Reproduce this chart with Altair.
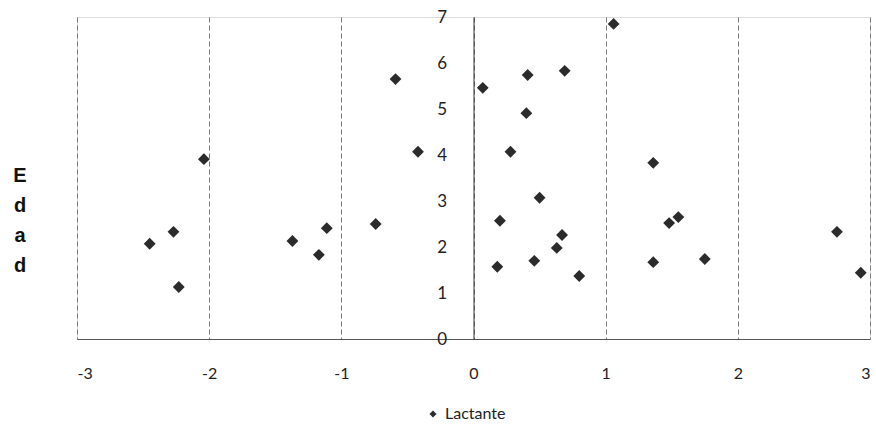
import altair as alt
import pandas as pd

# Scatter of "Lactante" values: x score vs. Edad
x_vals = [-2.45, -2.27, -2.23, -2.04, -1.37, -1.17, -1.11, -0.74, -0.59, -0.42,
          0.07, 0.18, 0.20, 0.28, 0.41, 0.40, 0.46, 0.50, 0.63, 0.67,
          0.69, 0.80, 1.06, 1.36, 1.36, 1.48, 1.55, 1.75, 2.75, 2.93]
y_vals = [2.07, 2.33, 1.13, 3.91, 2.13, 1.83, 2.41, 2.50, 5.65, 4.07,
          5.46, 1.57, 2.57, 4.07, 5.74, 4.91, 1.70, 3.07, 1.98, 2.26,
          5.83, 1.37, 6.85, 3.83, 1.67, 2.52, 2.65, 1.74, 2.33, 1.44]
series_name = "Lactante"
x_ticks = [-3, -2, -1, 0, 1, 2, 3]
y_ticks = [0, 1, 2, 3, 4, 5, 6, 7]
y_title = ["E", "d", "a", "d"]

df = pd.DataFrame({"x": x_vals, "y": y_vals, "serie": [series_name] * len(x_vals)})

W, H = 793, 322
FONT = "Lato"

points = alt.Chart(df).mark_point(
    shape="diamond", filled=True, size=140, opacity=1
).encode(
    x=alt.X("x:Q",
            scale=alt.Scale(domain=[-3, 3], nice=False, zero=False),
            axis=alt.Axis(values=x_ticks, title=None, grid=True,
                          gridDash=[5, 3], gridColor="#7a7a7a", gridWidth=1,
                          ticks=False, domainColor="#555555", domainWidth=1.2,
                          labelFont=FONT, labelFontSize=16, labelColor="#222222",
                          labelPadding=26, labelExpr="'' + datum.value")),
    y=alt.Y("y:Q",
            scale=alt.Scale(domain=[0, 7], nice=False),
            axis=alt.Axis(values=y_ticks, title=None, grid=False, ticks=False,
                          offset=-(W / 2), domainColor="#333333", domainWidth=1,
                          labelFont=FONT, labelFontSize=17, labelColor="#222222",
                          labelPadding=27)),
    color=alt.Color("serie:N",
                    scale=alt.Scale(range=["#2b2b2b"]),
                    legend=alt.Legend(title=None, orient="none",
                                      legendX=348, legendY=389,
                                      symbolType="diamond", symbolSize=50,
                                      labelFont=FONT, labelFontSize=16,
                                      labelColor="#222222", labelOffset=4)),
)

title_df = pd.DataFrame({"t": ["\n".join(y_title)]})
ytitle = alt.Chart(title_df).mark_text(
    lineBreak="\n", lineHeight=30, font="Liberation Sans", fontWeight="bold",
    fontSize=20, color="#111111", align="center", baseline="middle"
).encode(
    text="t:N",
    x=alt.value(-57),
    y=alt.value(159),
)

chart = alt.layer(points, ytitle).properties(
    width=W, height=H,
    autosize=alt.AutoSizeParams(type="none"),
    padding={"left": 77, "top": 17, "right": 6, "bottom": 93},
).configure_view(stroke=None).configure(background="white")

chart.save("out.html", embed_options={"renderer": "svg", "actions": False})
